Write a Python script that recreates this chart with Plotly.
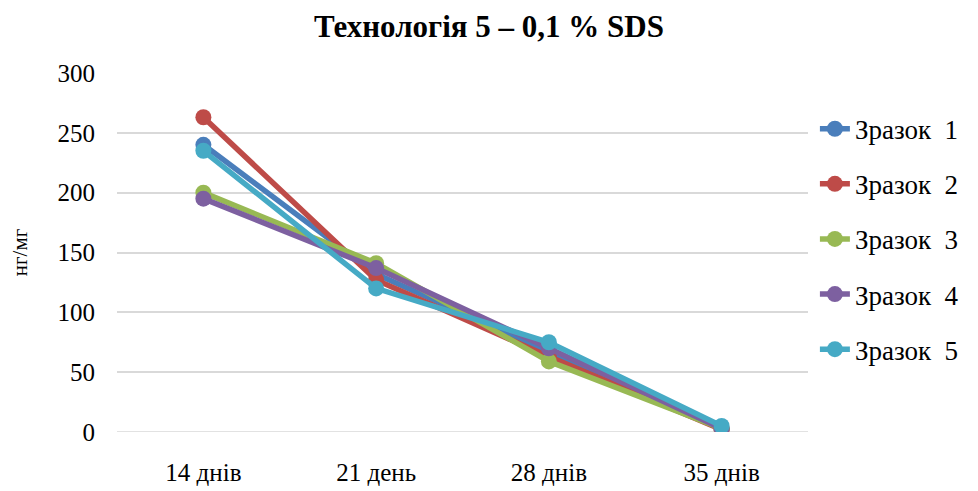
import plotly.graph_objects as go

categories = ["14 днів", "21 день", "28 днів", "35 днів"]
series_names = ["Зразок  1", "Зразок  2", "Зразок  3", "Зразок  4", "Зразок  5"]
s1 = [240, 132, 67, 3]
s2 = [263, 127, 63, 2]
s3 = [200, 141, 59, 3]
s4 = [195, 137, 70, 3]
s5 = [235, 120, 75, 5]
colors = ["#4A7EBB", "#BE4B48", "#98B954", "#7D60A0", "#46AAC5"]

fig = go.Figure()
for i, (name, vals) in enumerate(zip(series_names, [s1, s2, s3, s4, s5])):
    fig.add_trace(go.Scatter(
        x=categories, y=vals, name=name, mode="lines+markers",
        line=dict(color=colors[i], width=5.5),
        marker=dict(color=colors[i], size=16),
        legendgroup=f"g{i}",
    ))

font_family = "Liberation Serif, Times New Roman, serif"
fig.update_layout(
    width=978, height=491,
    margin=dict(l=117, r=170, t=73, b=59, autoexpand=False),
    paper_bgcolor="white", plot_bgcolor="white",
    title=dict(text="<b>Технологія 5 – 0,1 % SDS</b>", x=0.5, xanchor="center",
               y=0.947, yanchor="middle",
               font=dict(family=font_family, size=31, color="black")),
    font=dict(family=font_family, size=22, color="black"),
    xaxis=dict(type="category", range=[-0.5, 3.5], showgrid=False, showline=False,
               ticks="", tickfont=dict(family=font_family, size=25), zeroline=False,
               ticklabelstandoff=23, automargin=False),
    yaxis=dict(range=[0, 300], dtick=50, showgrid=True, gridcolor="#D9D9D9",
               gridwidth=1.5, zeroline=False, showline=False, ticks="",
               tickfont=dict(family=font_family, size=25), ticklabelstandoff=21,
               automargin=False,
               title=dict(text="нг/мг", font=dict(family=font_family, size=21), standoff=24)),
    legend=dict(x=1.01, xanchor="left", y=0.537, yanchor="middle",
                font=dict(family=font_family, size=27), tracegroupgap=17,
                bgcolor="rgba(0,0,0,0)"),
    showlegend=True,
)
fig.add_shape(type="line", xref="paper", yref="y", x0=0, x1=1, y0=0, y1=0,
              line=dict(color="#D9D9D9", width=1.5), layer="below")

fig.write_html("out.html")
